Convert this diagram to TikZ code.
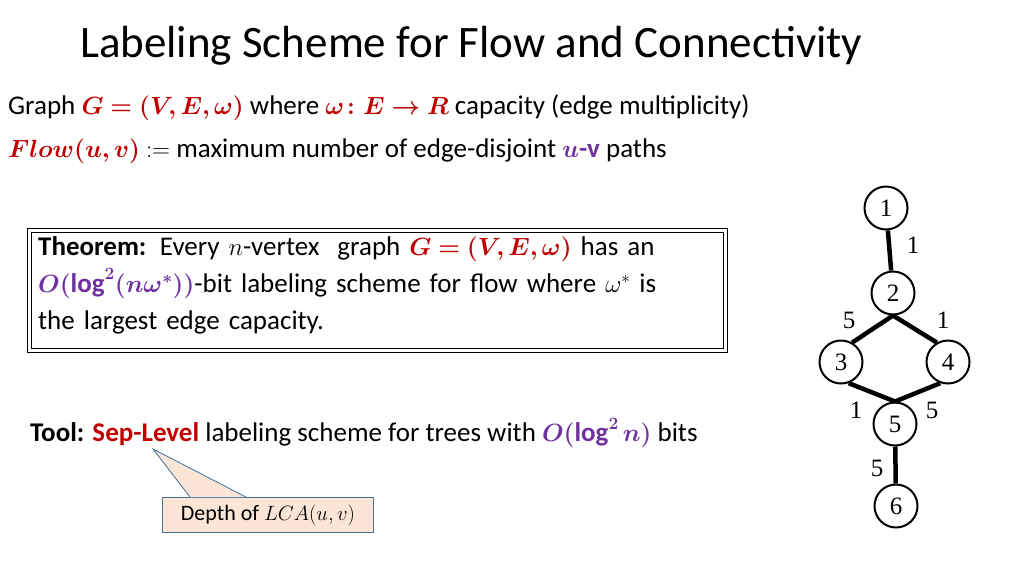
\documentclass[tikz,border=0pt]{standalone}
\usepackage{fontspec}
\usepackage{amsmath,bm}
\setmainfont{Carlito}
\definecolor{myred}{HTML}{C00000}
\definecolor{mypur}{HTML}{7030A0}
\definecolor{peach}{HTML}{FBE5D6}
\definecolor{callb}{HTML}{41719C}
\begin{document}
\begin{tikzpicture}[x=1pt,y=-1pt,
  txt/.style={anchor=west,inner sep=0pt,font=\fontsize{27}{32}\selectfont},
  vtx/.style={circle,draw,line width=2pt,minimum size=43pt,inner sep=0pt,font=\fontsize{25}{28}\rmfamily\fontspec{Liberation Serif}},
  edg/.style={line width=4.5pt},
  wl/.style={font=\fontsize{25}{28}\selectfont\fontspec{Liberation Serif}}]
\useasboundingbox (0,0) rectangle (1024,576);
\node[anchor=west,inner sep=0pt,font=\fontsize{45}{50}\selectfont] (title) at (80,46) {Labeling Scheme for Flow and Connectivity};
\node[txt] (l1) at (8,108) {Graph $\color{myred}\bm{G=(V,E,\omega)}$ where $\color{myred}\bm{\omega\colon E\to R}$ capacity (edge multiplicity)};
\node[txt] (l2) at (8,151) {$\color{myred}\bm{Flow(u,v)}$ $\mathrel{:}=$ maximum number of edge-disjoint $\color{mypur}\bm{u}$\textcolor{mypur}{\textbf{-v}} paths};
\draw[line width=1pt] (27,228) rectangle (727,352);
\draw[line width=1pt] (31,232) rectangle (723,348);
\node[anchor=north west,inner sep=0pt,text width=686pt,font=\fontsize{27}{37}\selectfont] (thm) at (38,236) {\textbf{Theorem:} Every $n$-vertex\ \ graph $\color{myred}\bm{G=(V,E,\omega)}$ has an\\ $\color{mypur}\bm{O(\log^2(n\omega^*))}$-bit labeling scheme for flow where $\omega^*$ is\\ the largest edge capacity.};
\node[txt] (tool) at (30,433) {\textbf{Tool:} \textcolor{myred}{\textbf{Sep-Level}} labeling scheme for trees with $\color{mypur}\bm{O(\log^2 n)}$ bits};
\node[draw=callb,fill=peach,line width=0.8pt,minimum width=211pt,minimum height=35pt,inner sep=2pt,font=\fontsize{22}{26}\selectfont] (call) at (268,515) {Depth of $LCA(u,v)$};
\coordinate (tip) at (153,449);
\filldraw[draw=callb,fill=peach,line width=0.8pt] ([xshift=28pt]call.north west) -- (tip) -- ([xshift=84pt]call.north west);
\node[vtx] (1) at (886,208) {1};
\node[vtx] (2) at (893,293) {2};
\node[vtx] (3) at (841,362) {3};
\node[vtx] (4) at (948,362) {4};
\node[vtx] (5) at (895,424) {5};
\node[vtx] (6) at (896,506) {6};
\draw[edg] (1) -- (2);
\draw[edg] (2.south) -- (3.60);
\draw[edg] (2.south) -- (4.120);
\draw[edg] (3.-70) -- (5.north);
\draw[edg] (4.-110) -- (5.north);
\draw[edg] (5) -- (6);
\node[wl] (w12) at (913,245) {1};
\node[wl] (w23) at (849,320) {5};
\node[wl] (w24) at (943,320) {1};
\node[wl] (w35) at (856,410) {1};
\node[wl] (w45) at (932,410) {5};
\node[wl] (w56) at (877,468) {5};
\end{tikzpicture}
\end{document}
